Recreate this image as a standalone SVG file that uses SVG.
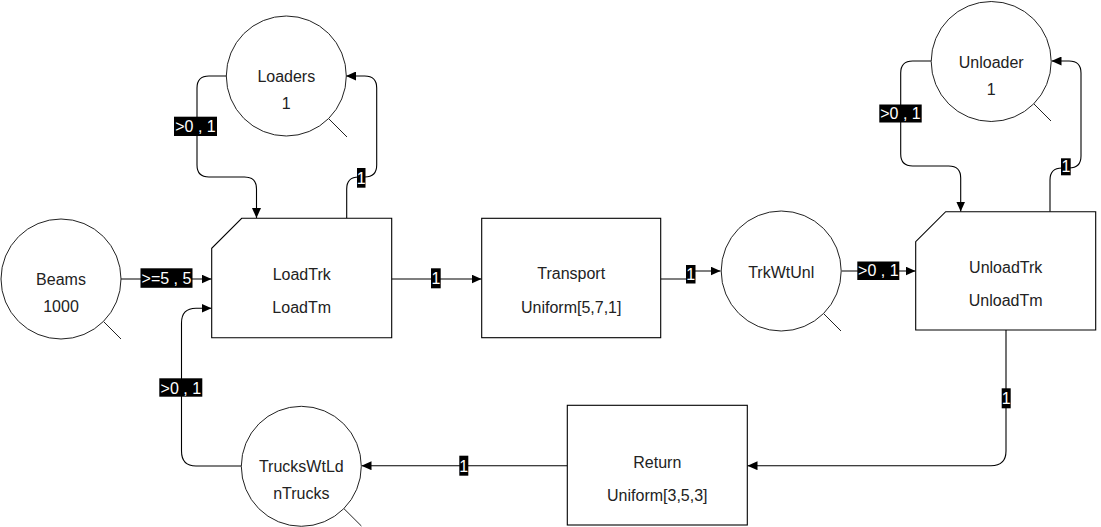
<svg xmlns="http://www.w3.org/2000/svg" width="1101" height="527" viewBox="0 0 1101 527">
<style>
.node{fill:#fff;stroke:#000;stroke-width:1.1}
.circ{fill:#fff;stroke:#222;stroke-width:1}
.tail{stroke:#222;stroke-width:1}
.t{font-family:"Liberation Sans",Arial,sans-serif;font-size:16px;fill:#222;text-anchor:middle}
.conn{fill:none;stroke:#000;stroke-width:1.1}
.lb{fill:#000}
.lt{font-family:"Liberation Sans",Arial,sans-serif;font-size:16px;fill:#fff;text-anchor:middle}
</style>
<defs>
<marker id="ah" markerUnits="userSpaceOnUse" markerWidth="10" markerHeight="9" refX="10" refY="4.5" orient="auto">
<path d="M0,0 L10,4.5 L0,9 z" fill="#000"/>
</marker>
</defs>
<rect width="1101" height="527" fill="#fff"/>
<g id="connectors">
<path class="conn" d="M121,279 H211.5" marker-end="url(#ah)"/>
<path class="conn" d="M391.7,279 H481.5" marker-end="url(#ah)"/>
<path class="conn" d="M660.7,279 H690.5 V271 H720.5" marker-end="url(#ah)"/>
<path class="conn" d="M841.7,271 H915.5" marker-end="url(#ah)"/>
<path class="conn" d="M226.7,76 H209 Q197,76 197,88 V165 Q197,177 209,177 H244.5 Q256.5,177 256.5,189 V218" marker-end="url(#ah)"/>
<path class="conn" d="M346.7,218.3 V189 Q346.7,177 358.7,177 H364.7 Q376.7,177 376.7,165 V88 Q376.7,76 364.7,76 H346" marker-end="url(#ah)"/>
<path class="conn" d="M931.3,61 H912.7 Q900.7,61 900.7,73 V154 Q900.7,166 912.7,166 H948.7 Q960.7,166 960.7,178 V211.5" marker-end="url(#ah)"/>
<path class="conn" d="M1050,211.7 V180 Q1050,168 1062,168 H1069 Q1081,168 1081,156 V73 Q1081,61 1069,61 H1051.5" marker-end="url(#ah)"/>
<path class="conn" d="M1006,330 V451 Q1006,465.7 991,465.7 H747.5" marker-end="url(#ah)"/>
<path class="conn" d="M567.3,465.7 H361.5" marker-end="url(#ah)"/>
<path class="conn" d="M241.7,466 H196 Q181.5,466 181.5,451 V323 Q181.5,308.3 196,308.3 H211.5" marker-end="url(#ah)"/>
<g id="labels">
<rect class="lb" x="140.5" y="268.3" width="52" height="19.5"/><text class="lt" x="166.5" y="284.3">&gt;=5 , 5</text>
<rect class="lb" x="431" y="268.3" width="9.7" height="20"/><text class="lt" x="435.9" y="284.3">1</text>
<rect class="lb" x="686" y="265" width="9.5" height="18.5"/><text class="lt" x="690.8" y="280">1</text>
<rect class="lb" x="857.3" y="261.5" width="42" height="18.5"/><text class="lt" x="878.3" y="276.3">&gt;0 , 1</text>
<rect class="lb" x="174" y="116.7" width="43" height="19.3"/><text class="lt" x="195.5" y="132.3">&gt;0 , 1</text>
<rect class="lb" x="357" y="168" width="8.5" height="19.7"/><text class="lt" x="361.3" y="183.5">1</text>
<rect class="lb" x="879.3" y="104.5" width="42.4" height="18"/><text class="lt" x="900.5" y="118.7">&gt;0 , 1</text>
<rect class="lb" x="1061" y="158.3" width="9.7" height="17"/><text class="lt" x="1065.9" y="171.5">1</text>
<rect class="lb" x="1001.7" y="388.3" width="9" height="20"/><text class="lt" x="1006.2" y="404">1</text>
<rect class="lb" x="459.3" y="455.7" width="9" height="20"/><text class="lt" x="463.8" y="471.5">1</text>
<rect class="lb" x="159.3" y="378.3" width="43" height="18.4"/><text class="lt" x="180.8" y="393.5">&gt;0 , 1</text>
</g>
</g>
<g id="Loaders">
<line class="tail" x1="328.4" y1="118.4" x2="347" y2="137"/>
<circle class="circ" cx="286.3" cy="76" r="60"/>
<text class="t" x="286.3" y="82">Loaders</text>
<text class="t" x="286.3" y="109">1</text>
</g>
<g id="Beams">
<line class="tail" x1="103.4" y1="321.4" x2="121" y2="339"/>
<circle class="circ" cx="61" cy="279" r="60"/>
<text class="t" x="61" y="285">Beams</text>
<text class="t" x="61" y="312">1000</text>
</g>
<g id="LoadTrk">
<path class="node" d="M241.7,218.3 H391.7 V337.7 H211.7 V248.3 Z"/>
<text class="t" x="301.7" y="280">LoadTrk</text>
<text class="t" x="301.7" y="313">LoadTm</text>
</g>
<g id="Transport">
<rect class="node" x="481.7" y="218.3" width="179" height="119.4"/>
<text class="t" x="571.2" y="279">Transport</text>
<text class="t" x="571.2" y="313">Uniform[5,7,1]</text>
</g>
<g id="TrkWtUnl">
<line class="tail" x1="823.4" y1="313.4" x2="841" y2="331"/>
<circle class="circ" cx="781.2" cy="271" r="60"/>
<text class="t" x="781.2" y="278">TrkWtUnl</text>
</g>
<g id="UnloadTrk">
<path class="node" d="M945.7,211.7 H1095.7 V330 H915.7 V241.7 Z"/>
<text class="t" x="1005.7" y="272.5">UnloadTrk</text>
<text class="t" x="1005.7" y="305.5">UnloadTm</text>
</g>
<g id="Unloader">
<line class="tail" x1="1033.4" y1="103.4" x2="1051" y2="121"/>
<circle class="circ" cx="991.2" cy="61.5" r="60"/>
<text class="t" x="991.2" y="68.3">Unloader</text>
<text class="t" x="991.2" y="94.5">1</text>
</g>
<g id="Return">
<rect class="node" x="567.3" y="405.3" width="180" height="119.7"/>
<text class="t" x="657.3" y="468">Return</text>
<text class="t" x="657.3" y="501">Uniform[3,5,3]</text>
</g>
<g id="TrucksWtLd">
<line class="tail" x1="343.7" y1="508.4" x2="361.4" y2="526"/>
<circle class="circ" cx="301.3" cy="466.3" r="60"/>
<text class="t" x="301.3" y="471.7">TrucksWtLd</text>
<text class="t" x="301.3" y="498.5">nTrucks</text>
</g>
</svg>
